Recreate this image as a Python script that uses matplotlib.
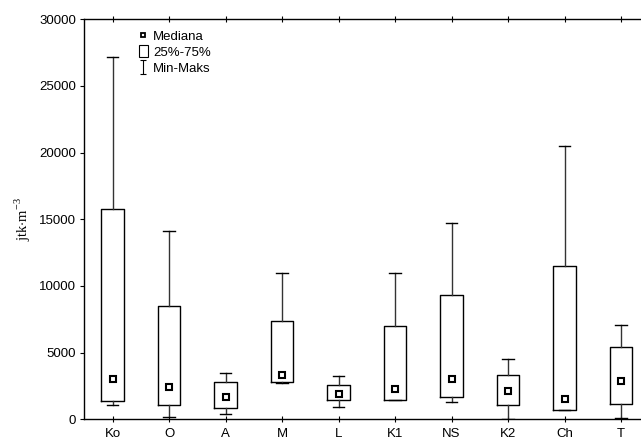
import matplotlib
matplotlib.use("Agg")
import matplotlib.pyplot as plt
from matplotlib.lines import Line2D
from matplotlib.patches import Patch
from matplotlib.path import Path

plt.rcParams['font.family'] = ['Liberation Sans', 'DejaVu Sans']
plt.rcParams['mathtext.fontset'] = 'custom'
plt.rcParams['mathtext.rm'] = 'Liberation Serif'

# data
lokasi = ['Ko', 'O', 'A', 'M', 'L', 'K1', 'NS', 'K2', 'Ch', 'T']
median = [3050, 2450, 1670, 3350, 1870, 2270, 3050, 2150, 1550, 2900]
q25 = [1380, 1050, 830, 2820, 1420, 1480, 1650, 1070, 680, 1130]
q75 = [15750, 8520, 2780, 7370, 2570, 7000, 9320, 3350, 11520, 5400]
minimum = [1050, 150, 400, 2700, 950, 1450, 1300, 0, 680, 80]
maksimum = [27200, 14120, 3450, 10950, 3250, 11000, 14700, 4500, 20500, 7070]

stats = []
for i in range(len(lokasi)):
    stats.append({'med': median[i], 'q1': q25[i], 'q3': q75[i],
                  'whislo': minimum[i], 'whishi': maksimum[i],
                  'label': lokasi[i]})

fig = plt.figure(figsize=(6.41, 4.41), dpi=100)
ax = fig.add_axes([84.3/641, 21.7/441, 565/641, 400/441])

pos = list(range(len(lokasi)))
ax.bxp(stats, positions=pos, widths=0.4, capwidths=0.2, showfliers=False,
       boxprops=dict(color='black', lw=1),
       whiskerprops=dict(color='#333333', lw=1),
       capprops=dict(color='black', lw=1),
       medianprops=dict(visible=False))
ax.plot(pos, median, 's', ms=4.2, mfc='white', mec='black', mew=1.5, ls='none')

ax.set_xlim(-0.5, len(lokasi) - 0.5)
ax.set_ylim(0, 30000)
ax.set_yticks(range(0, 30001, 5000))
ax.set_xticks(pos)
ax.set_xticklabels(lokasi)
ax.tick_params(axis='both', labelsize=9.5, length=3, width=0.8)
ax.tick_params(axis='x', top=True, direction='inout', length=4, pad=4)
ax.tick_params(axis='y', direction='out', pad=3)
for s in ax.spines.values():
    s.set_linewidth(1)

ax.set_ylabel('jtk$\\cdot$m$^{-3}$', family='Liberation Serif', fontsize=10.5,
              labelpad=4)

# legend
ibeam = Path([(-0.5, 1), (0.5, 1), (0, 1), (0, -1), (-0.5, -1), (0.5, -1)],
             [Path.MOVETO, Path.LINETO, Path.MOVETO, Path.LINETO,
              Path.MOVETO, Path.LINETO])
handles = [
    Line2D([], [], marker='s', ms=3.5, mfc='white', mec='black', mew=1.3, ls='none'),
    Patch(facecolor='white', edgecolor='black', lw=0.8),
    Line2D([], [], marker=ibeam, ms=10, mec='black', mew=0.8, ls='none'),
]
ax.legend(handles, ['Mediana', '25%-75%', 'Min-Maks'], loc='upper left',
          bbox_to_anchor=(0.097, 0.975), frameon=False, fontsize=9.5,
          handlelength=0.65, handleheight=1.0, handletextpad=0.4,
          labelspacing=0.2, borderpad=0, borderaxespad=0)

fig.savefig('out.png', dpi=100)
